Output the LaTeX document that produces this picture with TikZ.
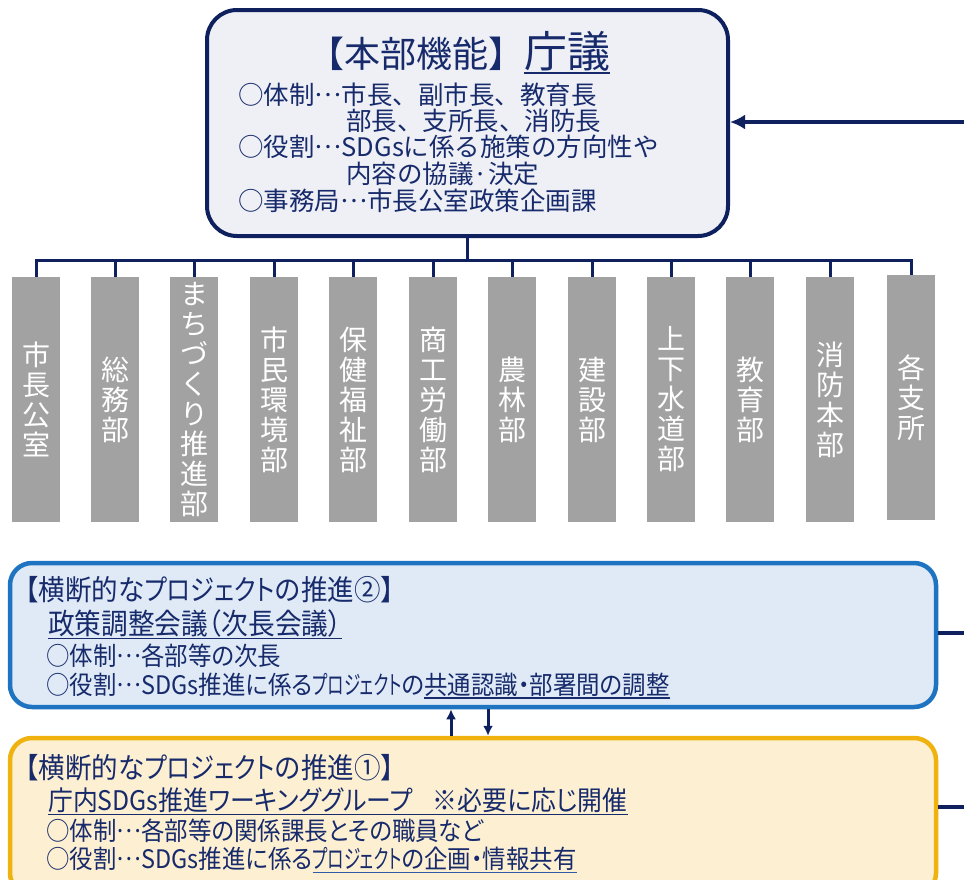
\documentclass[tikz,border=0pt]{standalone}
\usepackage{fontspec}
\usetikzlibrary{arrows.meta,calc}
\newfontfamily\jp{Noto Sans CJK JP}
\newfontfamily\jpc[FakeStretch=0.93]{Noto Sans CJK JP}
\newfontfamily\jpp[FakeStretch=0.92,RawFeature=+palt]{Noto Sans CJK JP}
\newfontfamily\jpk[FakeStretch=0.65,RawFeature=+palt]{Noto Sans CJK JP}
\newfontfamily\jpkt[FakeStretch=0.85,RawFeature=+palt]{Noto Sans CJK JP}
\definecolor{navy}{HTML}{0E215E}
\definecolor{txtnavy}{HTML}{172A6B}
\definecolor{ulblue}{HTML}{2F5AA8}
\definecolor{topfill}{HTML}{EEF0F5}
\definecolor{colgray}{HTML}{A2A2A2}
\definecolor{bluebd}{HTML}{1F74C2}
\definecolor{bluefill}{HTML}{DFEAF6}
\definecolor{yelbd}{HTML}{F0B20E}
\definecolor{yelfill}{HTML}{FDF0D2}
\newcommand{\ulin}[3]{\vtop{\hbox{#3}\kern#1\hrule height #2}}
\newcommand{\dts}{\raisebox{0.3em}{…}}
\begin{document}
\begin{tikzpicture}[x=1pt,y=-1pt,
  conn/.style={draw=navy, line width=3pt},
  rconn/.style={draw=navy, line width=4pt},
  arr/.style={rconn, -{Latex[length=15pt,width=15pt]}},
  arrsm/.style={draw=navy, line width=3pt, -{Latex[length=10pt,width=10pt]}},
  colbox/.style={fill=colgray, minimum width=48pt, minimum height=245pt, inner sep=0pt,
    text=white, align=center, font=\jp\fontsize{28}{30}\selectfont},
  toptxt/.style={anchor=base west, inner sep=0pt, text=txtnavy, font=\jp\fontsize{25.5}{26}\selectfont},
  lowttl/.style={anchor=base west, inner sep=0pt, text=txtnavy, font=\jpc\fontsize{28.5}{29}\selectfont},
  lowtxt/.style={anchor=base west, inner sep=0pt, text=txtnavy, font=\jpp\fontsize{25.5}{26}\selectfont}]
\useasboundingbox (0,0) rectangle (964,879);
\clip (0,0) rectangle (964,879);
\fill[white] (0,0) rectangle (964,879);

% top box
\node[draw=navy, line width=4pt, fill=topfill, rounded corners=30pt,
  minimum width=521pt, minimum height=226pt, inner sep=0pt] (top) at (467.5,123) {};
\node[anchor=base, inner sep=0pt, text=txtnavy] (ttl) at (459,67)
  {{\jp\fontsize{36}{36}\selectfont【本部機能】}{\jp\fontsize{43}{43}\selectfont\ulin{1pt}{1.8pt}{庁議}}};
\node[toptxt] (t1) at (238,104) {○体制\dts 市長、副市長、教育長};
\node[toptxt] (t2) at (346,130) {部長、支所長、消防長};
\node[toptxt] (t3) at (238,156.5) {○役割\dts SDGsに係る施策の方向性や};
\node[toptxt] (t4) at (346,183.5) {内容の協議·決定};
\node[toptxt] (t5) at (238,210) {○事務局\dts 市長公室政策企画課};

% columns
\node[colbox] (c1) at (36,399.5) {市\\長\\公\\室};
\node[colbox] (c2) at (115,399.5) {総\\務\\部};
\node[colbox] (c3) at (194,399.5) {ま\\ち\\づ\\く\\り\\推\\進\\部};
\node[colbox] (c4) at (274,399.5) {市\\民\\環\\境\\部};
\node[colbox] (c5) at (353,399.5) {保\\健\\福\\祉\\部};
\node[colbox] (c6) at (433,399.5) {商\\工\\労\\働\\部};
\node[colbox] (c7) at (512,399.5) {農\\林\\部};
\node[colbox] (c8) at (592,399.5) {建\\設\\部};
\node[colbox] (c9) at (671,399.5) {上\\下\\水\\道\\部};
\node[colbox] (c10) at (750,399.5) {教\\育\\部};
\node[colbox] (c11) at (830,399.5) {消\\防\\本\\部};
\node[colbox] (c12) at (911,397.5) {各\\支\\所};

\coordinate (bus) at (466,260);
\draw[conn] (top.south) -- (top.south |- bus);
\draw[conn] (c1.north) -- (c1.north |- bus) -- (c12.north |- bus) -- (c12.north);
\foreach \i in {2,...,11} \draw[conn] (c\i.north |- bus) -- (c\i.north);

% blue box
\node[draw=bluebd, line width=4.5pt, fill=bluefill, rounded corners=22pt,
  minimum width=926pt, minimum height=144pt, inner sep=0pt] (blue) at (473,635) {};
\node[lowttl] (b1) at (12,600) {【横断的な{\jpkt プロジェクト}の推進②】};
\node[lowtxt, font=\jpp\fontsize{29}{29}\selectfont] (b2) at (48,634) {\ulin{1pt}{1.5pt}{政策調整会議（次長会議）}};
\node[lowtxt] (b3) at (46,665.5) {○体制\dts 各部等の次長};
\node[lowtxt] (b4) at (46,694) {○役割\dts SDGs推進に係る{\jpk プロジェクト}の\ulin{1pt}{1.5pt}{共通認識・部署間の調整}};

% yellow box
\node[draw=yelbd, line width=4.5pt, fill=yelfill, rounded corners=22pt,
  minimum width=926pt, minimum height=157pt, inner sep=0pt] (yel) at (473,816.5) {};
\node[lowttl] (y1) at (12,778) {【横断的な{\jpkt プロジェクト}の推進①】};
\node[lowtxt, font=\jpp\fontsize{27}{27}\selectfont] (y2) at (48,810.5) {\ulin{1pt}{1.5pt}{庁内SDGs推進ワーキンググループ\hspace{20pt}※必要に応じ開催}};
\node[lowtxt] (y3) at (46,840.5) {○体制\dts 各部等の関係課長とその職員など};
\node[lowtxt] (y4) at (46,868.5) {○役割\dts SDGs推進に係る{\color{ulblue}\ulin{1pt}{1.5pt}{\color{txtnavy}{\jpk プロジェクト}の企画・情報共有}}};

% arrows between boxes
\coordinate (ua) at (451,0);
\coordinate (da) at (488,0);
\draw[arrsm] (yel.north -| ua) -- (blue.south -| ua);
\draw[arrsm] (blue.south -| da) -- (yel.north -| da);

% right side connectors
\coordinate (er1) at (964,122);
\coordinate (er2) at (964,633);
\coordinate (er3) at (964,807);
\draw[arr] (er1) -- (er1 -| top.east);
\draw[rconn] (er2 -| blue.east) -- (er2);
\draw[rconn] (er3 -| yel.east) -- (er3);
\end{tikzpicture}
\end{document}
